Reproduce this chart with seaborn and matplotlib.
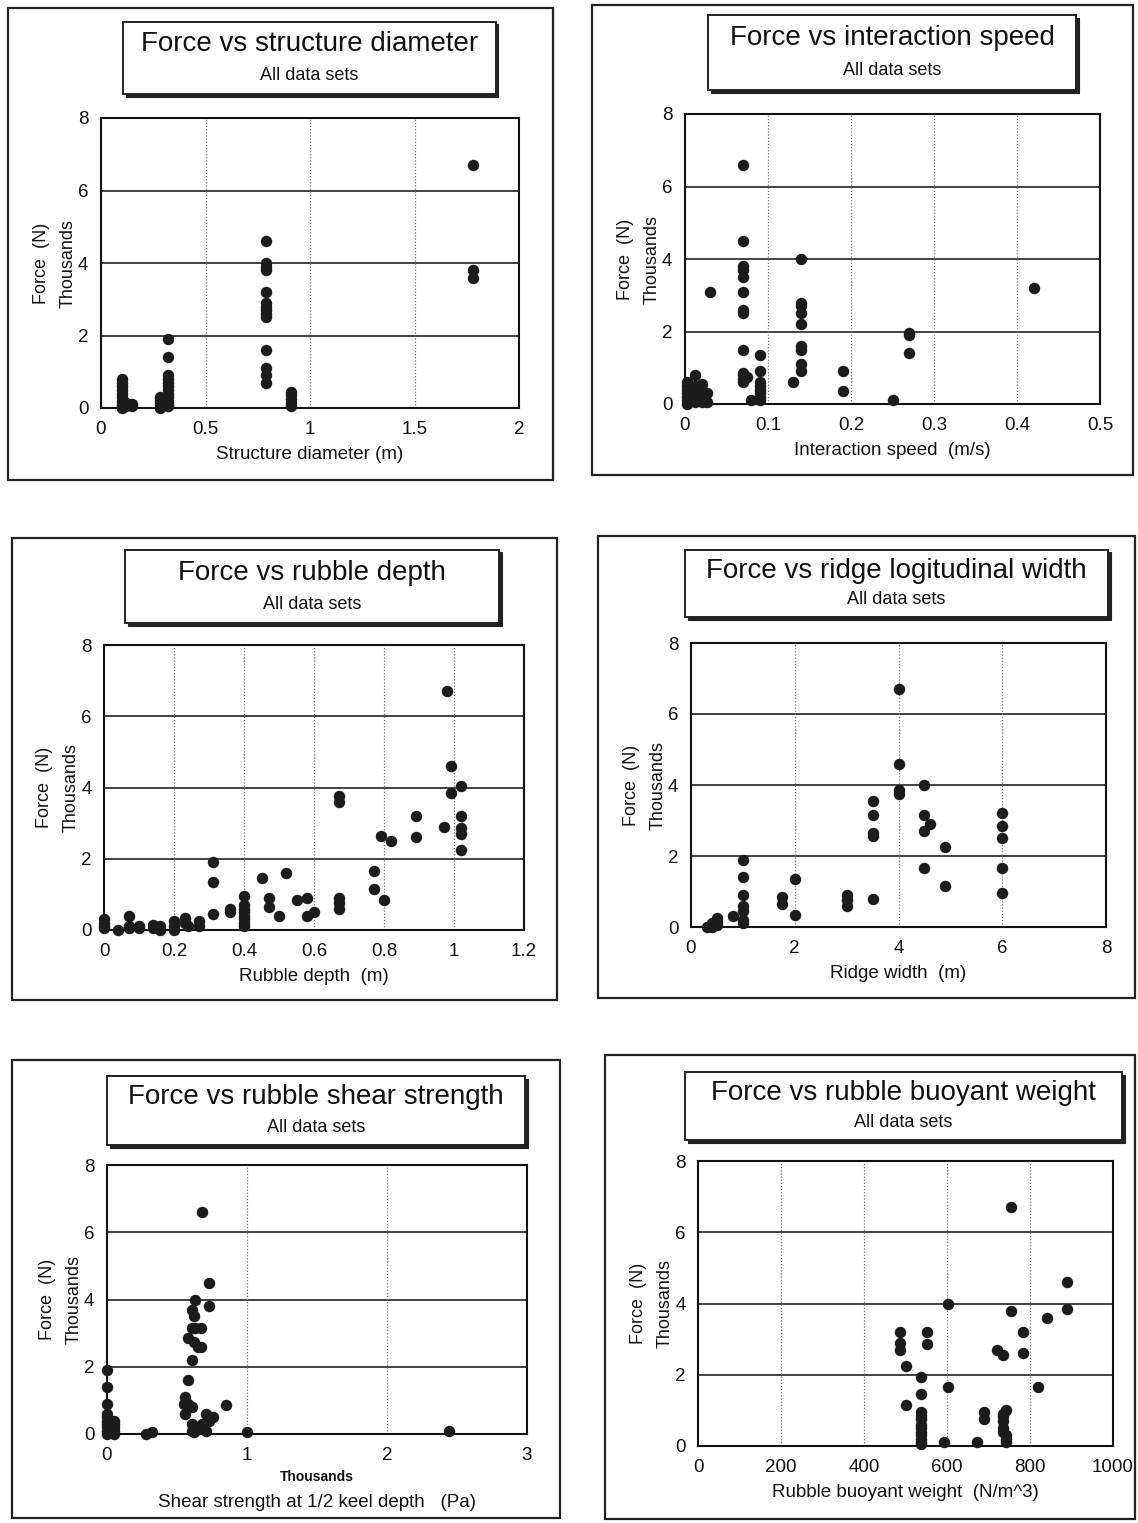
import matplotlib
matplotlib.use("Agg")
import matplotlib.pyplot as plt
from matplotlib.patches import Rectangle
import seaborn as sns
import pandas as pd

sns.set_style("white")
plt.rcParams['font.family'] = ['Liberation Sans', 'DejaVu Sans']

# ---------------- data (force in thousands of N) ----------------
diam_x = [0.10, 0.10, 0.10, 0.10, 0.10, 0.10, 0.10, 0.10, 0.10, 0.10,
          0.12, 0.12, 0.15, 0.15,
          0.28, 0.28, 0.28, 0.28,
          0.32, 0.32, 0.32, 0.32, 0.32, 0.32, 0.32, 0.32, 0.32, 0.32, 0.32, 0.32,
          0.79, 0.79, 0.79, 0.79, 0.79, 0.79, 0.79, 0.79, 0.79, 0.79, 0.79, 0.79, 0.79, 0.79,
          0.91, 0.91, 0.91, 0.91, 0.91,
          1.78, 1.78, 1.78]
diam_f = [0.8, 0.7, 0.6, 0.5, 0.4, 0.3, 0.2, 0.1, 0.05, 0.0,
          0.15, 0.05, 0.1, 0.05,
          0.0, 0.1, 0.2, 0.3,
          1.9, 1.4, 0.9, 0.8, 0.7, 0.6, 0.5, 0.4, 0.3, 0.2, 0.1, 0.05,
          4.6, 4.0, 3.9, 3.8, 3.2, 2.9, 2.8, 2.7, 2.6, 2.5, 1.6, 1.1, 0.9, 0.7,
          0.45, 0.35, 0.25, 0.15, 0.05,
          6.7, 3.8, 3.6]

speed_x = [0.003, 0.003, 0.003, 0.003, 0.003, 0.003, 0.003,
           0.012, 0.012, 0.012, 0.012, 0.012,
           0.020, 0.020, 0.020, 0.020,
           0.026, 0.026, 0.030,
           0.070, 0.070, 0.070, 0.070, 0.070, 0.070, 0.070, 0.070, 0.070, 0.070, 0.070, 0.070, 0.070,
           0.075, 0.080,
           0.090, 0.090, 0.090, 0.090, 0.090, 0.090, 0.090, 0.090,
           0.130,
           0.140, 0.140, 0.140, 0.140, 0.140, 0.140, 0.140, 0.140, 0.140,
           0.190, 0.190, 0.250, 0.270, 0.270, 0.270, 0.420]
speed_f = [0.6, 0.5, 0.4, 0.3, 0.2, 0.1, 0.0,
           0.8, 0.5, 0.3, 0.15, 0.05,
           0.55, 0.4, 0.2, 0.05,
           0.3, 0.05, 3.1,
           6.6, 4.5, 3.8, 3.7, 3.5, 3.1, 2.6, 2.5, 1.5, 0.85, 0.8, 0.7, 0.6,
           0.75, 0.1,
           1.35, 0.9, 0.6, 0.5, 0.4, 0.3, 0.2, 0.1,
           0.6,
           4.0, 2.8, 2.7, 2.5, 2.2, 1.6, 1.5, 1.1, 0.9,
           0.9, 0.35, 0.1, 1.95, 1.9, 1.4, 3.2]

depth_x = [0.0, 0.0, 0.0, 0.0, 0.04, 0.07, 0.07, 0.07, 0.10, 0.10,
           0.14, 0.14, 0.16, 0.16, 0.20, 0.20, 0.20, 0.23, 0.23, 0.24,
           0.27, 0.27, 0.31, 0.31, 0.31, 0.36, 0.36,
           0.40, 0.40, 0.40, 0.40, 0.40, 0.40, 0.40, 0.40,
           0.45, 0.47, 0.47, 0.50, 0.52, 0.55, 0.58, 0.58, 0.60,
           0.67, 0.67, 0.67, 0.67, 0.67, 0.77, 0.77, 0.79, 0.80, 0.82,
           0.89, 0.89, 0.97, 0.98, 0.99, 0.99,
           1.02, 1.02, 1.02, 1.02, 1.02]
depth_f = [0.3, 0.2, 0.1, 0.05, 0.0, 0.4, 0.1, 0.05, 0.05, 0.1,
           0.15, 0.05, 0.1, 0.0, 0.25, 0.1, 0.0, 0.35, 0.2, 0.1,
           0.25, 0.1, 1.9, 1.35, 0.45, 0.6, 0.5,
           0.95, 0.7, 0.6, 0.5, 0.4, 0.3, 0.2, 0.1,
           1.45, 0.9, 0.65, 0.4, 1.6, 0.85, 0.9, 0.4, 0.5,
           3.75, 3.6, 0.9, 0.75, 0.6, 1.65, 1.15, 2.65, 0.85, 2.5,
           3.2, 2.6, 2.9, 6.7, 4.6, 3.85,
           4.05, 3.2, 2.85, 2.7, 2.25]

width_x = [0.3, 0.4, 0.4, 0.5, 0.5, 0.5, 0.8,
           1.0, 1.0, 1.0, 1.0, 1.0, 1.0, 1.0,
           1.75, 1.75, 2.0, 2.0, 3.0, 3.0, 3.0,
           3.5, 3.5, 3.5, 3.5, 3.5,
           4.0, 4.0, 4.0, 4.0,
           4.5, 4.5, 4.5, 4.5, 4.6, 4.9, 4.9,
           6.0, 6.0, 6.0, 6.0, 6.0]
width_f = [0.0, 0.1, 0.0, 0.25, 0.15, 0.05, 0.3,
           1.9, 1.4, 0.9, 0.6, 0.45, 0.2, 0.1,
           0.85, 0.65, 1.35, 0.35, 0.9, 0.75, 0.6,
           3.55, 3.15, 2.65, 2.55, 0.8,
           6.7, 4.6, 3.85, 3.75,
           4.0, 3.15, 2.7, 1.65, 2.9, 2.25, 1.15,
           3.2, 2.85, 2.5, 1.65, 0.95]

# shear strength in thousands of Pa
shear_x = [0.0, 0.0, 0.0, 0.0, 0.0, 0.0, 0.0, 0.0, 0.0, 0.0,
           0.05, 0.05, 0.05, 0.05, 0.05, 0.28, 0.32,
           0.68, 0.73, 0.63, 0.73, 0.61, 0.62, 0.61, 0.63, 0.67, 0.58, 0.62,
           0.65, 0.67, 0.61, 0.58, 0.56, 0.55, 0.58, 0.61, 0.56, 0.71,
           0.85, 0.76, 0.73, 0.61, 0.68, 0.66, 0.61, 0.71, 0.62,
           1.00, 2.44]
shear_f = [1.9, 1.4, 0.9, 0.6, 0.5, 0.4, 0.3, 0.2, 0.1, 0.0,
           0.4, 0.3, 0.2, 0.1, 0.0, 0.0, 0.05,
           6.6, 4.5, 4.0, 3.8, 3.7, 3.5, 3.15, 3.15, 3.15, 2.85, 2.75,
           2.6, 2.6, 2.2, 1.6, 1.1, 0.9, 0.9, 0.8, 0.6, 0.6,
           0.85, 0.5, 0.4, 0.3, 0.3, 0.2, 0.1, 0.1, 0.05,
           0.05, 0.1]

buoy_x = [487, 487, 487, 502, 500,
          538, 538, 538, 538, 538, 538, 538, 538, 538, 538, 538, 538,
          551, 551, 592, 603, 603, 673, 690, 690, 720,
          736, 736, 736, 736, 736, 736,
          741, 741, 741, 741,
          755, 755, 782, 782, 819, 840, 889, 889]
buoy_f = [3.2, 2.9, 2.7, 2.25, 1.15,
          1.95, 1.45, 0.95, 0.85, 0.75, 0.6, 0.5, 0.4, 0.3, 0.2, 0.1, 0.05,
          3.2, 2.85, 0.1, 4.0, 1.65, 0.1, 0.95, 0.75, 2.7,
          2.55, 0.9, 0.85, 0.7, 0.5, 0.4,
          1.0, 0.3, 0.2, 0.1,
          6.7, 3.8, 3.2, 2.6, 1.65, 3.6, 4.6, 3.85]

titles = ["Force vs structure diameter", "Force vs interaction speed",
          "Force vs rubble depth", "Force vs ridge logitudinal width",
          "Force vs rubble shear strength", "Force vs rubble buoyant weight"]
subtitle = "All data sets"
xlabels = ["Structure diameter (m)", "Interaction speed  (m/s)",
           "Rubble depth  (m)", "Ridge width  (m)",
           "Shear strength at 1/2 keel depth   (Pa)",
           "Rubble buoyant weight  (N/m^3)"]
xticks = [[0, 0.5, 1, 1.5, 2], [0, 0.1, 0.2, 0.3, 0.4, 0.5],
          [0, 0.2, 0.4, 0.6, 0.8, 1, 1.2], [0, 2, 4, 6, 8],
          [0, 1, 2, 3], [0, 200, 400, 600, 800, 1000]]
xticklabels = [["0", "0.5", "1", "1.5", "2"],
               ["0", "0.1", "0.2", "0.3", "0.4", "0.5"],
               ["0", "0.2", "0.4", "0.6", "0.8", "1", "1.2"],
               ["0", "2", "4", "6", "8"],
               ["0", "1", "2", "3"],
               ["0", "200", "400", "600", "800", "1000"]]
yticks = [0, 2, 4, 6, 8]

series = [(diam_x, diam_f), (speed_x, speed_f), (depth_x, depth_f),
          (width_x, width_f), (shear_x, shear_f), (buoy_x, buoy_f)]

# ---------------- layout (pixels) ----------------
W, H = 1138, 1523
fig = plt.figure(figsize=(W / 100, H / 100), dpi=100)
fig.patch.set_facecolor("white")

axes_px = [(101, 519, 118, 408), (685, 1100, 114, 404),
           (104, 524, 645, 930), (691, 1106, 643, 927),
           (107, 527, 1165, 1434), (698, 1113, 1161, 1446)]
frame_px = [(8, 553, 8, 480), (592, 1133, 5, 475),
            (12, 557, 538, 1000), (598, 1135, 536, 998),
            (12, 560, 1060, 1518), (605, 1135, 1055, 1519)]
tbox_px = [(123, 496, 22, 94), (708, 1076, 15, 90),
           (125, 499, 550, 623), (685, 1108, 550, 617),
           (107, 525, 1076, 1145), (685, 1122, 1072, 1140)]


def fx(x):
    return x / W


def fy(y):
    return 1 - y / H


def rect(x0, x1, y0, y1, **kw):
    r = Rectangle((fx(x0), fy(y1)), fx(x1) - fx(x0), fy(y0) - fy(y1),
                  transform=fig.transFigure, **kw)
    fig.add_artist(r)
    return r


for i in range(6):
    # outer frame
    x0, x1, y0, y1 = frame_px[i]
    rect(x0, x1, y0, y1, fill=False, edgecolor="#222222", linewidth=1.6, zorder=0)

    # title box with shadow
    x0, x1, y0, y1 = tbox_px[i]
    rect(x0 + 2.5, x1 + 2.5, y0 + 2.5, y1 + 2.5, facecolor="#222222", edgecolor="#222222",
         linewidth=0.8, zorder=1)
    rect(x0, x1, y0, y1, facecolor="white", edgecolor="#222222", linewidth=1.4, zorder=2)
    cx = (x0 + x1) / 2
    fig.text(fx(cx), fy(y0 + 0.31 * (y1 - y0)), titles[i], ha="center", va="center",
             fontsize=20, color="#111111", zorder=3)
    fig.text(fx(cx), fy(y0 + 0.74 * (y1 - y0)), subtitle, ha="center", va="center",
             fontsize=13, color="#111111", zorder=3)

    # axes
    l, r, t, b = axes_px[i]
    ax = fig.add_axes([fx(l), fy(b), fx(r) - fx(l), fy(t) - fy(b)])
    xs, ys = series[i]
    df = pd.DataFrame({"x": xs, "force": ys})
    sns.scatterplot(data=df, x="x", y="force", ax=ax, color="#1c1c1c", s=68,
                    linewidth=0, zorder=5, clip_on=False)
    ax.set_xlim(xticks[i][0], xticks[i][-1])
    ax.set_ylim(0, 8)
    ax.set_xticks(xticks[i])
    ax.set_xticklabels(xticklabels[i])
    ax.set_yticks(yticks)
    ax.set_yticklabels([str(v) for v in yticks])
    ax.tick_params(axis="both", length=0, labelsize=13.5, colors="#111111")
    ax.tick_params(axis="x", pad=9)
    ax.tick_params(axis="y", pad=9)
    for v in [2, 4, 6]:
        ax.axhline(v, color="#333333", linewidth=1.3, zorder=1)
    for v in xticks[i][1:-1]:
        ax.axvline(v, color="#777777", linewidth=0.9, linestyle=(0, (1, 1.5)), zorder=1)
    for s in ax.spines.values():
        s.set_color("#111111")
        s.set_linewidth(1.5)
    ax.set_ylabel("Force  (N)\nThousands", fontsize=13, linespacing=1.75,
                  labelpad=1, color="#111111")
    if i == 4:
        ax.text(0.5, -0.16, "Thousands", transform=ax.transAxes, ha="center",
                va="center", fontsize=10, fontweight="bold", color="#111111")
        ax.set_xlabel(xlabels[i], fontsize=13.5, labelpad=22, color="#111111")
    else:
        ax.set_xlabel(xlabels[i], fontsize=13.5, labelpad=6, color="#111111")

fig.savefig("out.png", dpi=100, facecolor="white")
